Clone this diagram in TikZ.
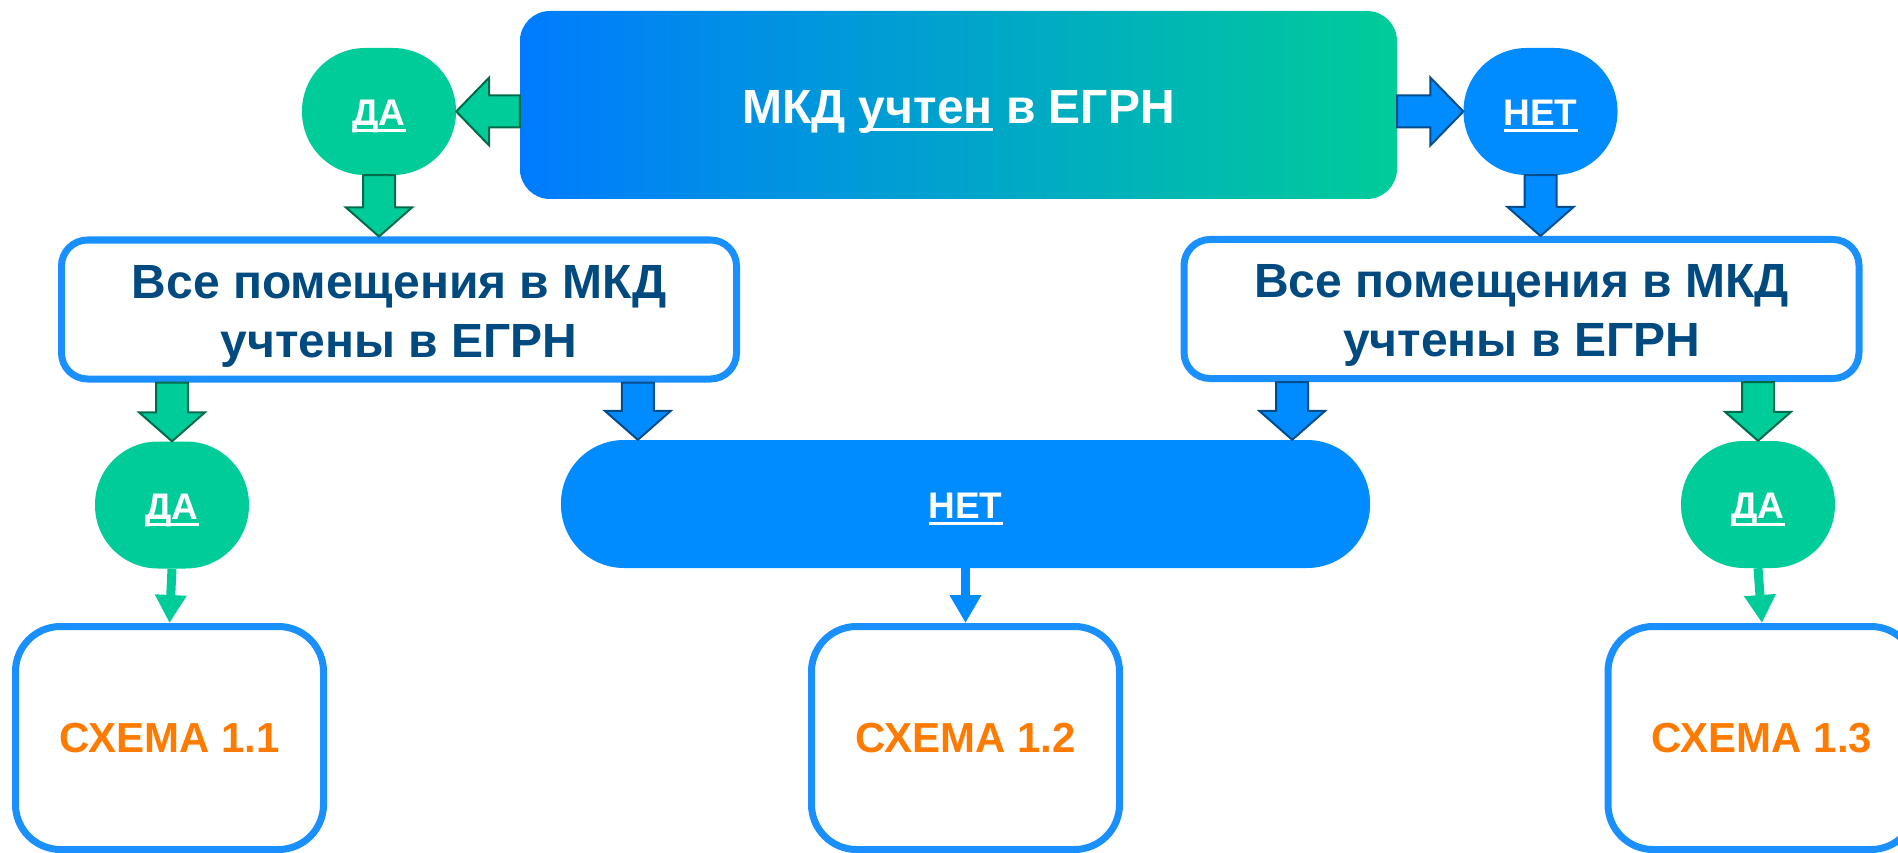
\documentclass[tikz,border=0pt]{standalone}
\usepackage{fontspec}
\setmainfont{Liberation Sans}
\usetikzlibrary{positioning}
\usetikzlibrary{calc}
\usetikzlibrary{arrows.meta}

\definecolor{mkdblue}{RGB}{0,123,255}
\definecolor{mkdgreen}{RGB}{0,204,153}
\definecolor{netblue}{RGB}{0,140,255}
\definecolor{edgeblue}{RGB}{26,144,255}
\definecolor{darkgreen}{RGB}{0,107,74}
\definecolor{darkblue}{RGB}{0,76,140}
\definecolor{textblue}{RGB}{0,74,128}
\definecolor{schemeorange}{RGB}{255,123,0}

\newcommand{\undertext}[1]{\leavevmode\setbox0\hbox{#1}\rlap{\vrule width\wd0 height -4pt depth 7pt}\box0\relax}
\newcommand{\blockdown}[3]{ % style, tail point, tip point (shaft at x of tip)
    \draw[#1] ($(#3 |- #2)+(-16,0)$) -- ($(#3)+(-16,-29)$) -- ($(#3)+(-33,-29)$) -- (#3)
        -- ($(#3)+(33,-29)$) -- ($(#3)+(16,-29)$) -- ($(#3 |- #2)+(16,0)$) -- cycle;
}
\newcommand{\blockside}[4]{ % style, tail point, tip point, signed head length
    \draw[#1] ($(#3 -| #2)+(0,-16)$) -- ($(#3)+(#4,-16)$) -- ($(#3)+(#4,-34)$) -- (#3)
        -- ($(#3)+(#4,34)$) -- ($(#3)+(#4,16)$) -- ($(#3 -| #2)+(0,16)$) -- cycle;
}

\tikzset{
    mkdbox/.style={rounded corners=30pt, left color=mkdblue, right color=mkdgreen,
        minimum width=877pt, minimum height=188pt, text=white, text height=38pt, text depth=0pt,
        font=\fontsize{48}{58}\selectfont\bfseries},
    yesnode/.style={fill=mkdgreen, rounded corners=63pt, minimum width=154pt, minimum height=127pt,
        inner sep=0pt, text=white, text height=28pt, text depth=0pt, font=\fontsize{37}{44}\selectfont\bfseries},
    nonode/.style={yesnode, fill=netblue},
    askbox/.style={draw=edgeblue, line width=7pt, fill=white, rounded corners=26pt,
        minimum width=675pt, minimum height=139pt, align=center, text=textblue,
        text height=95pt, text depth=0pt, font=\fontsize{48}{59}\selectfont\bfseries},
    schemebox/.style={draw=edgeblue, line width=7pt, rounded corners=45pt,
        minimum width=308pt, minimum height=223pt, text=schemeorange,
        font=\fontsize{42}{50}\selectfont\bfseries},
    greenarrow/.style={fill=mkdgreen, draw=darkgreen, line width=2pt},
    bluearrow/.style={fill=netblue, draw=darkblue, line width=2pt},
    thinarrow/.style={line width=9pt, -{Triangle[width=30pt,length=28pt]}},
}

\begin{document}
\begin{tikzpicture}[x=1pt,y=-1pt]
    \useasboundingbox (0,0) rectangle (1898,853);

    % Question at the top
    \node[mkdbox] (mkd) at (958.5,105) {МКД \undertext{учтен} в ЕГРН};
    \node[yesnode] (da1) at (379,111.5) {\undertext{ДА}};
    \node[nonode] (net1) at (1540.5,111.5) {\undertext{НЕТ}};

    % Second question, twice
    \node[askbox] (pom1) at (399,309.5) {Все помещения в МКД\\учтены в ЕГРН};
    \node[askbox] (pom2) at (1521.5,309) {Все помещения в МКД\\учтены в ЕГРН};

    % Answers
    \node[yesnode] (da2) at (172,505) {\undertext{ДА}};
    \node[nonode, minimum width=809pt, minimum height=128pt] (net2) at (965.5,504) {\undertext{НЕТ}};
    \node[yesnode] (da3) at (1758,504.5) {\undertext{ДА}};

    % Schemes
    \node[schemebox] (s11) at (169.5,738) {СХЕМА 1.1};
    \node[schemebox] (s12) at (965.5,738) {СХЕМА 1.2};
    \node[schemebox] (s13) at (1762,738) {СХЕМА 1.3};

    % Points where the block arrows end
    \coordinate (inL) at (da1 |- pom1.north);
    \coordinate (inR) at (net1 |- pom2.north);
    \coordinate (netL) at ([xshift=77pt]net2.north west);
    \coordinate (netR) at ([xshift=-78pt]net2.north east);

    % Block arrows
    \blockside{greenarrow}{mkd.west}{da1.east}{33}
    \blockside{bluearrow}{mkd.east}{net1.west}{-33}
    \blockdown{greenarrow}{da1.south}{inL}
    \blockdown{bluearrow}{net1.south}{inR}
    \blockdown{greenarrow}{pom1.south}{da2.north}
    \blockdown{bluearrow}{pom1.south}{netL}
    \blockdown{bluearrow}{pom2.south}{netR}
    \blockdown{greenarrow}{pom2.south}{da3.north}

    % Thin arrows to the schemes
    \draw[thinarrow, draw=mkdgreen] (da2.south) -- (s11.north);
    \draw[thinarrow, draw=netblue] (net2.south) -- (s12.north);
    \draw[thinarrow, draw=mkdgreen] (da3.south) -- (s13.north);
\end{tikzpicture}
\end{document}
